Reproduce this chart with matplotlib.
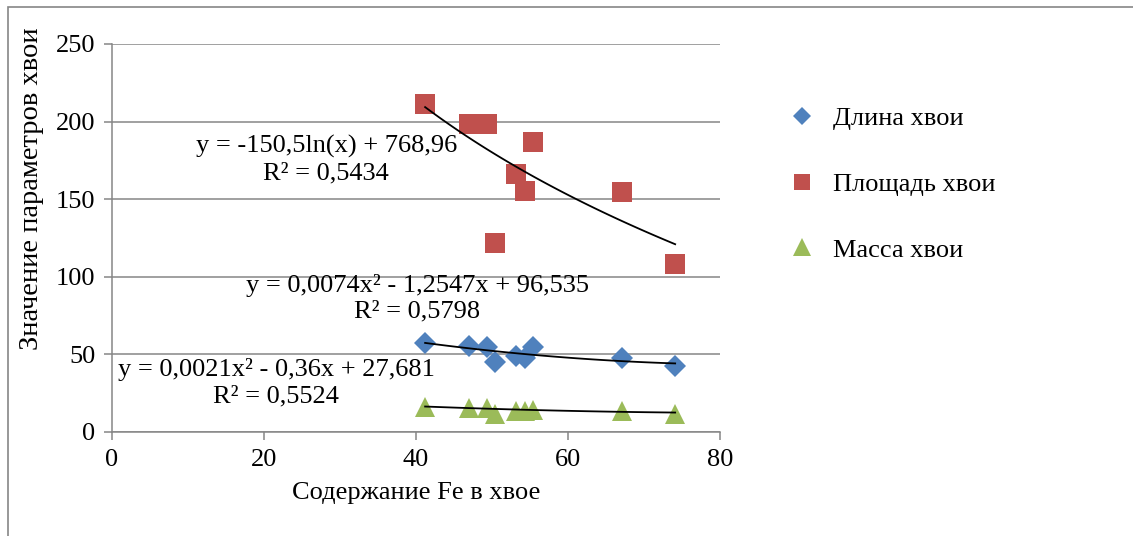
import numpy as np
import matplotlib
matplotlib.use('Agg')
import matplotlib.pyplot as plt
from matplotlib.patches import Rectangle

plt.rcParams['font.family'] = ['Liberation Serif', 'DejaVu Serif']

fe = [41.2, 47.0, 49.4, 50.4, 53.1, 54.4, 55.4, 67.1, 74.1]
dlina = [57.5, 55.5, 54.8, 45.0, 49.0, 47.5, 55.0, 47.5, 42.5]
ploshad = [211.5, 198.5, 198.5, 122.0, 166.0, 155.0, 187.0, 154.5, 108.5]
massa = [16.0, 15.5, 15.5, 11.5, 13.5, 13.5, 14.0, 13.5, 11.5]

# trendline coefficients (as shown on the chart)
log_coef = [-150.5, 768.96]
poly_dlina = [0.0074, -1.2547, 96.535]
poly_massa = [0.0021, -0.36, 27.681]

names = ['Длина хвои', 'Площадь хвои', 'Масса хвои']
c_blue, c_red, c_green = '#4F81BD', '#C0504D', '#9BBB59'

W, H = 1133, 536
fig = plt.figure(figsize=(W / 100, H / 100), dpi=100)
fig.patches.append(Rectangle((8 / W, -0.1), 1.2, 1.1 - 7 / H, transform=fig.transFigure,
                             fill=False, edgecolor='#868686', linewidth=1.2))
ax = fig.add_axes([112 / W, 1 - 432 / H, 608 / W, 388 / H])

gray = '#868686'
ax.set_xlim(0, 80)
ax.set_ylim(0, 250)
ax.set_xticks(range(0, 81, 20))
ax.set_yticks(range(0, 251, 50))
ax.yaxis.grid(True, color=gray, linewidth=1.1)
ax.set_axisbelow(True)
for s in ['top', 'right']:
    ax.spines[s].set_visible(False)
for s in ['left', 'bottom']:
    ax.spines[s].set_color(gray)
    ax.spines[s].set_linewidth(1.1)
ax.spines['left'].set_zorder(0.5)
ax.tick_params(colors=gray, labelcolor='black', labelsize=19, width=1.1, length=6, pad=6)

x = np.array(fe)
xs = np.linspace(x.min(), x.max(), 100)
ax.plot(xs, log_coef[0] * np.log(xs) + log_coef[1], color='black', lw=1.3, zorder=4)
ax.plot(xs, np.polyval(poly_dlina, xs), color='black', lw=1.3, zorder=4)
ax.plot(xs, np.polyval(poly_massa, xs), color='black', lw=1.3, zorder=4)

h1, = ax.plot(fe, dlina, 'D', color=c_blue, markersize=11, mew=0, label=names[0], zorder=3)
h2, = ax.plot(fe, ploshad, 's', color=c_red, markersize=14, mew=0, label=names[1], zorder=3)
h3, = ax.plot(fe, massa, '^', color=c_green, markersize=15, mew=0, label=names[2], zorder=3)

ax.text(28.2, 175.6, 'y = -150,5ln(x) + 768,96\nR² = 0,5434', ha='center', va='center',
        fontsize=19, linespacing=1.25)
ax.text(40.2, 86, 'y = 0,0074x² - 1,2547x + 96,535\nR² = 0,5798', ha='center', va='center',
        fontsize=19, linespacing=1.2)
ax.text(21.6, 32, 'y = 0,0021x² - 0,36x + 27,681\nR² = 0,5524', ha='center', va='center',
        fontsize=19, linespacing=1.25)

ax.set_xlabel('Содержание Fe в хвое', fontsize=19, labelpad=8)
ax.set_ylabel('Значение параметров хвои', fontsize=20.5)
ax.yaxis.set_label_coords(-68 / 608, 0.626)

fig.legend(handles=[h1, h2, h3], loc='upper left', bbox_to_anchor=(762 / W, 1 - 83 / H),
           frameon=False, fontsize=19, labelspacing=1.6, handletextpad=0.6,
           handlelength=1.2, markerscale=0.85)

fig.savefig('out.png', dpi=100)
